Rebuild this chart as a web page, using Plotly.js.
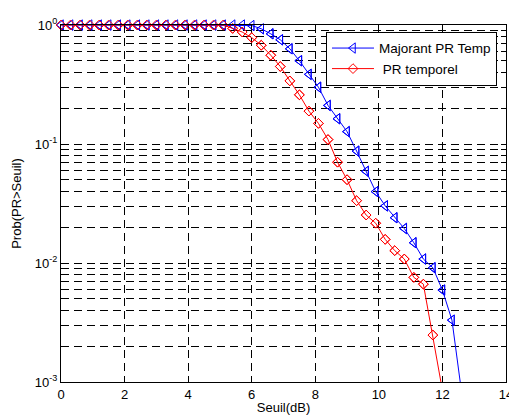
<!DOCTYPE html>
<html>
<head>
<meta charset="utf-8">
<script src="https://cdn.plot.ly/plotly-3.0.1.min.js"></script>
<style>html,body{margin:0;padding:0;background:#fff;}#chart{width:509px;height:419px;}</style>
</head>
<body>
<div id="chart"></div>
<script>
// Series: Majorant PR Temp (blue, left triangles)
const xMajorant = [0,0.3,0.6,0.9,1.2,1.5,1.8,2.1,2.4,2.7,3.0,3.3,3.6,3.9,4.2,4.5,4.8,5.1,5.4,5.7,
  6.0,6.3,6.6,6.9,7.2,7.5,7.8,8.1,8.4,8.7,9.0,9.3,9.6,9.9,10.2,10.5,10.8,11.1,11.4,11.7,12.0,12.3,12.6];
const yMajorant = [1,1,1,1,1,1,1,1,1,1,1,1,1,1,1,1,1,1,1,1,
  0.99,0.93,0.843,0.751,0.631,0.501,0.385,0.300,0.211,0.163,0.127,0.0871,0.0589,0.0398,0.0302,0.0240,0.0195,0.0148,0.0108,0.00912,0.00592,0.00331,0.00083];

// Series: PR temporel (red, diamonds)
const xTemporel = [0,0.3,0.6,0.9,1.2,1.5,1.8,2.1,2.4,2.7,3.0,3.3,3.6,3.9,4.2,4.5,4.8,5.1,
  5.4,5.7,6.0,6.3,6.6,6.9,7.2,7.5,7.8,8.1,8.4,8.7,9.0,9.3,9.6,9.9,10.2,10.5,10.8,11.1,11.4,11.7,12.0];
const yTemporel = [1,1,1,1,1,1,1,1,1,1,1,1,1,1,1,1,1,1,
  0.937,0.873,0.783,0.676,0.557,0.448,0.339,0.259,0.189,0.149,0.109,0.0703,0.0501,0.0334,0.0253,0.0216,0.0158,0.0127,0.0108,0.00757,0.00664,0.00248,0.00085];

const seriesNames = ['Majorant PR Temp', ' PR temporel'];
const xTickVals = [0,2,4,6,8,10,12,14];
const yTickVals = [0.001,0.01,0.1,1];
const yTickText = ['10<sup>-3</sup>','10<sup>-2</sup>','10<sup>-1</sup>','10<sup>0</sup>'];
const yMinorVals = [];
[0.001,0.01,0.1].forEach(d => { for (let k = 2; k <= 9; k++) yMinorVals.push(d*k); });

const yMin = 0.001;
function visible(xs, ys) {
  const ox = [], oy = [];
  ys.forEach((v, i) => { if (v >= yMin) { ox.push(xs[i]); oy.push(v); } });
  return {x: ox, y: oy};
}

const blue = '#0000ff', red = '#ff0000';
const triStyle = {symbol:'triangle-left-open', size:9, color:blue, line:{width:1, color:blue}};
const diaStyle = {symbol:'diamond-open', size:7.5, color:red, line:{width:1, color:red}};
const vb = visible(xMajorant, yMajorant);
const vr = visible(xTemporel, yTemporel);

const traces = [
  {x:xMajorant, y:yMajorant, name:seriesNames[0], mode:'lines+markers', line:{color:blue, width:1}, marker:triStyle, cliponaxis:true},
  {x:vb.x, y:vb.y, mode:'markers', marker:triStyle, cliponaxis:false, showlegend:false, hoverinfo:'skip'},
  {x:xTemporel, y:yTemporel, name:seriesNames[1], mode:'lines+markers', line:{color:red, width:1}, marker:diaStyle, cliponaxis:true},
  {x:vr.x, y:vr.y, mode:'markers', marker:diaStyle, cliponaxis:false, showlegend:false, hoverinfo:'skip'}
];

const gridDash = '8px,5px';
const layout = {
  width:509, height:419,
  margin:{l:61, r:3, t:25, b:37, pad:0},
  paper_bgcolor:'#ffffff', plot_bgcolor:'#ffffff',
  font:{family:'Liberation Sans, Arial, sans-serif', size:13, color:'#000'},
  showlegend:true,
  legend:{x:0.5955, y:0.981, xanchor:'left', yanchor:'top', bordercolor:'#000', borderwidth:1, bgcolor:'#fff',
          font:{size:13.5, color:'#000'}, traceorder:'normal', itemwidth:42},
  xaxis:{range:[0,14], tickmode:'array', tickvals:xTickVals, ticks:'inside', ticklen:5, tickcolor:'#000',
         mirror:'ticks', showline:true, linecolor:'#000', linewidth:1, zeroline:false, ticklabeloverflow:'allow',
         showgrid:true, gridcolor:'#000', gridwidth:1, griddash:gridDash,
         title:{text:'Seuil(dB)', font:{size:13}, standoff:2}},
  yaxis:{type:'log', range:[-3,0], tickmode:'array', tickvals:yTickVals, ticktext:yTickText,
         ticks:'inside', ticklen:5, tickcolor:'#000', mirror:'ticks', showline:true, linecolor:'#000', linewidth:1,
         zeroline:false, showgrid:true, gridcolor:'#000', gridwidth:1, griddash:gridDash,
         minor:{tickmode:'array', tickvals:yMinorVals, ticks:'inside', ticklen:5, tickcolor:'#000',
                showgrid:true, gridcolor:'#000', gridwidth:1, griddash:gridDash},
         title:{text:'Prob(PR>Seuil)', font:{size:13}, standoff:10}}
};

Plotly.newPlot('chart', traces, layout, {displayModeBar:false, staticPlot:true});
</script>
</body>
</html>
